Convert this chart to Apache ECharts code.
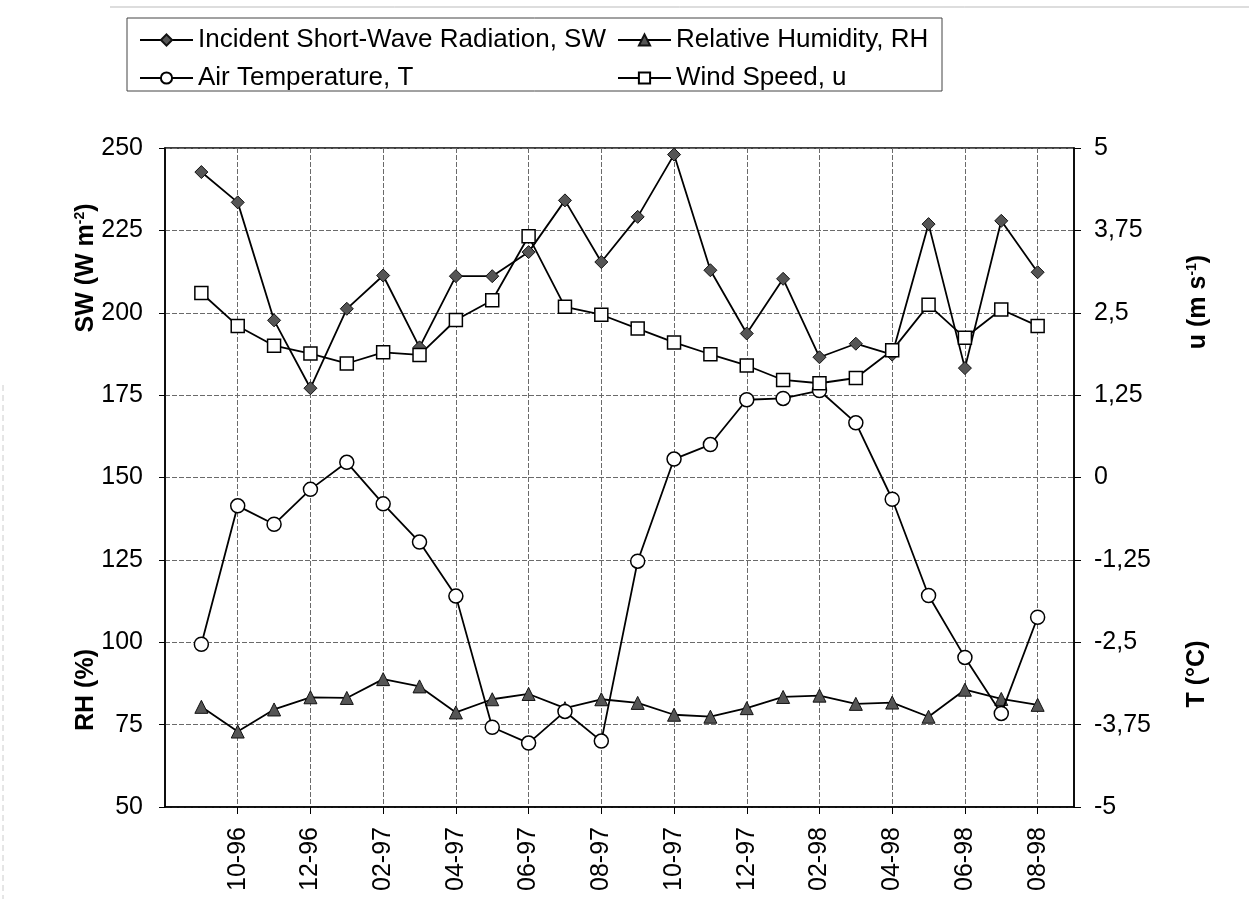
<!DOCTYPE html>
<html>
<head>
<meta charset="utf-8">
<title>Meteorological conditions 1996-1998</title>
<script src="https://cdn.jsdelivr.net/npm/echarts@6/dist/echarts.min.js"></script>
<style>
  html, body { margin: 0; padding: 0; background: #fff; }
  #chart { width: 1249px; height: 899px; }
</style>
</head>
<body>
<div id="chart"></div>
<script>
// Monthly axis, padded by one empty month on each side
const axisMonths = ['08-96', '09-96', '10-96', '11-96', '12-96', '01-97', '02-97', '03-97', '04-97',
  '05-97', '06-97', '07-97', '08-97', '09-97', '10-97', '11-97', '12-97', '01-98', '02-98',
  '03-98', '04-98', '05-98', '06-98', '07-98', '08-98', '09-98'];
const dataMonths = axisMonths.slice(1, 25);

// Incident short-wave radiation (W m-2)
const swValues = [242.7, 233.5, 197.7, 177.1, 201.2, 211.3, 189.5, 211.1, 211.1, 218.4, 234.1, 215.4,
  229.1, 248.0, 212.9, 193.7, 210.3, 186.5, 190.6, 187.3, 226.9, 183.2, 227.9, 212.3];
// Relative humidity (%)
const rhValues = [80.4, 72.9, 79.6, 83.3, 83.1, 88.8, 86.6, 78.7, 82.7, 84.3, 80.0, 82.7,
  81.6, 78.0, 77.4, 80.0, 83.4, 83.8, 81.3, 81.7, 77.4, 85.6, 82.8, 81.0];
// Air temperature (°C)
const tValues = [-2.53, -0.43, -0.71, -0.18, 0.23, -0.40, -0.98, -1.80, -3.79, -4.03, -3.55, -4.00,
  -1.27, 0.28, 0.50, 1.18, 1.20, 1.32, 0.83, -0.33, -1.79, -2.73, -3.58, -2.12];
// Wind speed (m s-1)
const uValues = [2.80, 2.30, 2.00, 1.88, 1.73, 1.90, 1.86, 2.39, 2.69, 3.66, 2.59, 2.47,
  2.26, 2.05, 1.87, 1.70, 1.48, 1.43, 1.51, 1.93, 2.62, 2.12, 2.55, 2.30];

const FONT = 'Liberation Sans, Arial, sans-serif';
const pair = (vals) => dataMonths.map((m, i) => [m, vals[i]]);
const labelled = (idx) => idx >= 2 && idx <= 24 && idx % 2 === 0;
const gridLine = { show: true, lineStyle: { color: '#6a6a6a', width: 1, type: [5, 2] } };

const chart = echarts.init(document.getElementById('chart'), null, { renderer: 'canvas' });

const lineBase = {
  type: 'line',
  lineStyle: { color: '#000', width: 1.8 },
  emphasis: { disabled: true },
  animation: false
};

// one legend entry per block so the two columns line up
const legendEntry = (name, left, top) => ({
  left: left, top: top, padding: 0,
  itemWidth: 53, itemHeight: 14, itemGap: 0,
  textStyle: { fontSize: 26, color: '#000', fontFamily: FONT },
  data: [name]
});

chart.setOption({
  backgroundColor: '#fff',
  textStyle: { fontFamily: FONT },
  grid: {
    left: 165, right: 175, top: 148, bottom: 92,
    show: true, borderColor: '#000', borderWidth: 1.5, backgroundColor: 'transparent'
  },
  legend: [
    legendEntry('Incident Short-Wave Radiation, SW', 139, 27),
    legendEntry('Air Temperature, T', 139, 65),
    legendEntry('Relative Humidity, RH', 617, 27),
    legendEntry('Wind Speed, u', 617, 65)
  ],
  xAxis: {
    type: 'category',
    data: axisMonths,
    boundaryGap: false,
    axisLine: { onZero: false, lineStyle: { color: '#000', width: 1.5 } },
    axisTick: { show: true, interval: labelled, length: 7, lineStyle: { color: '#000' } },
    axisLabel: {
      interval: labelled, rotate: 90, margin: 20,
      fontSize: 25, color: '#000', fontFamily: FONT
    },
    splitLine: Object.assign({ interval: labelled }, gridLine)
  },
  yAxis: [
    {
      type: 'value', min: 50, max: 250, interval: 25, position: 'left',
      axisLine: { show: true, lineStyle: { color: '#000', width: 1.5 } },
      axisTick: { show: true, length: 6, lineStyle: { color: '#000' } },
      axisLabel: { fontSize: 25, color: '#000', margin: 22, fontFamily: FONT },
      splitLine: gridLine
    },
    {
      type: 'value', min: -5, max: 5, interval: 1.25, position: 'right',
      axisLine: { show: true, lineStyle: { color: '#000', width: 1.5 } },
      axisTick: { show: true, length: 7, lineStyle: { color: '#000' } },
      axisLabel: {
        fontSize: 25, color: '#000', margin: 20, fontFamily: FONT,
        formatter: (v) => String(v).replace('.', ',')
      },
      splitLine: { show: false }
    }
  ],
  series: [
    Object.assign({}, lineBase, {
      name: 'Incident Short-Wave Radiation, SW',
      yAxisIndex: 0, z: 2,
      symbol: 'diamond', symbolSize: 13,
      itemStyle: { color: '#555', borderColor: '#111', borderWidth: 1 },
      data: pair(swValues)
    }),
    Object.assign({}, lineBase, {
      name: 'Relative Humidity, RH',
      yAxisIndex: 0, z: 3,
      symbol: 'triangle', symbolSize: 13,
      itemStyle: { color: '#555', borderColor: '#111', borderWidth: 1 },
      data: pair(rhValues)
    }),
    Object.assign({}, lineBase, {
      name: 'Air Temperature, T',
      yAxisIndex: 1, z: 4,
      symbol: 'circle', symbolSize: 14,
      itemStyle: { color: '#fff', borderColor: '#000', borderWidth: 1.5 },
      data: pair(tValues)
    }),
    Object.assign({}, lineBase, {
      name: 'Wind Speed, u',
      yAxisIndex: 1, z: 5,
      symbol: 'rect', symbolSize: 13,
      itemStyle: { color: '#fff', borderColor: '#000', borderWidth: 1.5 },
      data: pair(uValues)
    })
  ],
  graphic: [
    // legend frame
    { type: 'rect', shape: { x: 127, y: 18, width: 815, height: 73 },
      style: { fill: 'none', stroke: '#444', lineWidth: 1 }, silent: true },
    // faint page edges
    { type: 'line', shape: { x1: 110, y1: 7, x2: 1249, y2: 7 },
      style: { stroke: '#bbb', lineWidth: 1 }, silent: true },
    { type: 'line', shape: { x1: 3, y1: 385, x2: 3, y2: 899 },
      style: { stroke: '#ccc', lineWidth: 1, lineDash: [6, 4] }, silent: true },
    // axis titles
    { type: 'text', x: 86, y: 268, rotation: Math.PI / 2, silent: true,
      style: { text: '{a|SW (W m}{s|-2}{a|)}', align: 'center', verticalAlign: 'middle',
        rich: { a: { fontSize: 25, fontWeight: 'bold', fontFamily: FONT, fill: '#000' },
                s: { fontSize: 14, fontWeight: 'bold', fontFamily: FONT, fill: '#000', verticalAlign: 'top' } } } },
    { type: 'text', x: 86, y: 690, rotation: Math.PI / 2, silent: true,
      style: { text: 'RH (%)', align: 'center', verticalAlign: 'middle',
        fontSize: 25, fontWeight: 'bold', fontFamily: FONT, fill: '#000' } },
    { type: 'text', x: 1198, y: 302, rotation: Math.PI / 2, silent: true,
      style: { text: '{a|u (m s}{s|-1}{a|)}', align: 'center', verticalAlign: 'middle',
        rich: { a: { fontSize: 25, fontWeight: 'bold', fontFamily: FONT, fill: '#000' },
                s: { fontSize: 14, fontWeight: 'bold', fontFamily: FONT, fill: '#000', verticalAlign: 'top' } } } },
    { type: 'text', x: 1197, y: 674, rotation: Math.PI / 2, silent: true,
      style: { text: 'T (°C)', align: 'center', verticalAlign: 'middle',
        fontSize: 25, fontWeight: 'bold', fontFamily: FONT, fill: '#000' } }
  ]
});
</script>
</body>
</html>
